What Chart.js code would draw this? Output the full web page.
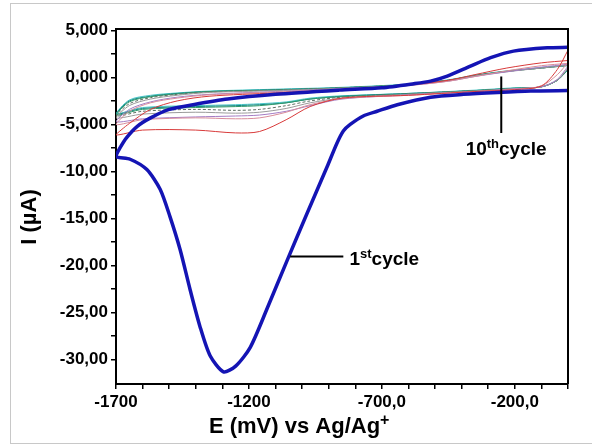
<!DOCTYPE html>
<html>
<head>
<meta charset="utf-8">
<script src="https://cdn.jsdelivr.net/npm/chart.js@4"></script>
<style>
  body { margin: 0; background: #fff; }
  #frame { position: absolute; left: 10px; top: 3px; width: 600px; height: 439px; border: 1px solid #c8c8c8; }
  #cv { position: absolute; left: 0; top: 0; }
</style>
</head>
<body>
<div id="frame"></div>
<canvas id="cv" width="592" height="446"></canvas>
<script>
// 1st cycle (thick blue): sweep from 0 mV down to -1700 and back
const cycle1E = [0, -141, -265, -393, -517, -642, -718, -770, -819, -845, -869, -906, -982, -1057, -1132, -1195, -1250, -1296,
  -1346, -1384, -1421, -1459, -1497, -1534, -1584, -1647, -1700,
  -1685, -1660, -1620, -1570, -1500, -1410, -1280, -1100, -860, -700, -580, -517, -454, -367, -291, -205, -78, 0];
const cycle1I = [-1.4, -1.45, -1.6, -1.8, -2.1, -2.9, -3.6, -4.1, -5.0, -5.7, -7.0, -9.5, -14.5, -19.5, -24.6, -28.7, -30.7, -31.3,
  -29.6, -26.5, -22.6, -18.3, -14.8, -11.9, -9.8, -8.7, -8.4,
  -7.5, -6.4, -5.2, -4.3, -3.4, -2.9, -2.3, -1.8, -1.35, -1.1, -0.67, -0.39, 0.14, 1.2, 2.1, 2.8, 3.15, 3.2];

// later cycles (thin lines), shared potential axis
const thinE = [0, -40, -100, -200, -350, -600, -850, -970, -1060, -1160, -1250, -1400, -1600, -1700,
  -1650, -1570, -1470, -1350, -1100, -850, -600, -450, -350, -230, -100, 0];
const cycle2I = [2.9, 0.85, -0.9, -1.3, -1.5, -1.9, -2.2, -3.1, -4.5, -5.75, -5.9, -5.6, -5.6, -6.1,
  -4.9, -3.4, -2.5, -2.0, -1.65, -1.3, -0.8, -0.3, 0.3, 1.0, 1.55, 1.8];
const cycle3I = [1.6, 0.3, -0.9, -1.25, -1.5, -1.9, -2.25, -2.9, -3.7, -4.3, -4.4, -4.3, -4.5, -5.0,
  -3.6, -2.7, -2.2, -1.85, -1.55, -1.25, -0.85, -0.4, 0.1, 0.7, 1.25, 1.5];
const cycle4I = [1.2, -0.2, -1.0, -1.2, -1.5, -1.85, -2.3, -3.0, -3.6, -4.0, -4.1, -4.2, -4.4, -4.7,
  -3.4, -2.6, -2.1, -1.8, -1.5, -1.2, -0.85, -0.4, 0.1, 0.6, 1.1, 1.4];
const cycle5I = [1.0, -0.3, -1.0, -1.2, -1.45, -1.8, -2.2, -2.7, -3.3, -3.7, -3.8, -3.7, -3.9, -4.3,
  -3.0, -2.3, -1.9, -1.6, -1.4, -1.15, -0.8, -0.35, 0.15, 0.6, 1.0, 1.3];
const cycle6I = [0.95, -0.3, -1.0, -1.2, -1.4, -1.75, -2.1, -2.5, -3.0, -3.4, -3.5, -3.4, -3.6, -4.1,
  -2.8, -2.15, -1.8, -1.55, -1.35, -1.1, -0.75, -0.3, 0.2, 0.65, 1.0, 1.3];
const cycle7I = [0.9, -0.3, -1.0, -1.15, -1.4, -1.75, -2.05, -2.3, -2.7, -3.0, -3.1, -3.2, -3.4, -4.0,
  -2.6, -2.05, -1.75, -1.5, -1.35, -1.1, -0.75, -0.3, 0.2, 0.65, 1.0, 1.3];
const cycle8I = [0.85, -0.3, -1.0, -1.15, -1.4, -1.7, -2.0, -2.3, -2.7, -2.9, -3.0, -3.1, -3.3, -3.9,
  -2.5, -2.0, -1.7, -1.5, -1.3, -1.1, -0.75, -0.3, 0.2, 0.65, 1.0, 1.25];
const cycle10I = [0.8, -0.3, -1.0, -1.1, -1.35, -1.7, -1.95, -2.2, -2.6, -2.8, -2.9, -3.0, -3.2, -3.85,
  -2.4, -1.9, -1.65, -1.45, -1.25, -1.05, -0.7, -0.25, 0.25, 0.7, 1.05, 1.3];
const thinColors = ['#d83a3a', '#d88c9a', '#a47cc4', '#9a9a9a', '#5f6f64', '#2f9a6a', '#108484', '#48c8c8'];

// axes
const xTicks = [-1700, -1600, -1500, -1400, -1300, -1200, -1100, -1000, -900, -800, -700, -600, -500, -400, -300, -200, -100, 0];
const xLabels = { '-1700': '-1700', '-1200': '-1200', '-700': '-700,0', '-200': '-200,0' };
const yTicks = [5, 2.5, 0, -2.5, -5, -7.5, -10, -12.5, -15, -17.5, -20, -22.5, -25, -27.5, -30];
const yLabels = { '5': '5,000', '0': '0,000', '-5': '-5,000', '-10': '-10,00', '-15': '-15,00', '-20': '-20,00', '-25': '-25,00', '-30': '-30,00' };

const FONT = "'Liberation Sans', Arial, sans-serif";

function pts(E, I) { return E.map((e, i) => ({ x: e, y: I[i] })); }

const thinSets = [cycle2I, cycle3I, cycle4I, cycle5I, cycle6I, cycle7I, cycle8I, cycle10I].map((arr, k) => ({
  data: pts(thinE, arr),
  borderColor: thinColors[k],
  borderWidth: 1,
  borderDash: k === 4 ? [3, 2] : [],
  showLine: true, pointRadius: 0, tension: 0.3
}));

const datasets = [{
  data: pts(cycle1E, cycle1I),
  borderColor: '#1414b4',
  borderWidth: 3.5,
  showLine: true, pointRadius: 0, tension: 0.25
}].concat(thinSets);

function supText(ctx, parts, x, y) {
  // parts: [text, size, raise]
  parts.forEach(p => {
    ctx.font = 'bold ' + p[1] + 'px ' + FONT;
    ctx.fillText(p[0], x, y - p[2]);
    x += ctx.measureText(p[0]).width;
  });
}

const decor = {
  id: 'decor',
  afterDraw(chart) {
    const { ctx, chartArea: a, scales: { x, y } } = chart;
    ctx.save();
    ctx.strokeStyle = '#000';
    ctx.lineWidth = 2;
    ctx.beginPath();
    ctx.moveTo(a.left, a.top); ctx.lineTo(a.right, a.top); ctx.lineTo(a.right, a.bottom);
    ctx.stroke();

    // annotations
    ctx.lineWidth = 2;
    ctx.beginPath();
    ctx.moveTo(x.getPixelForValue(-1045), y.getPixelForValue(-19.05));
    ctx.lineTo(x.getPixelForValue(-845), y.getPixelForValue(-19.05));
    ctx.moveTo(x.getPixelForValue(-251), y.getPixelForValue(0.1));
    ctx.lineTo(x.getPixelForValue(-251), y.getPixelForValue(-5.9));
    ctx.stroke();

    ctx.fillStyle = '#000';
    ctx.textAlign = 'left';
    ctx.textBaseline = 'alphabetic';
    supText(ctx, [['1', 19, 0], ['st', 13, 7], ['cycle', 19, 0]], x.getPixelForValue(-822), y.getPixelForValue(-19.05) + 8);
    supText(ctx, [['10', 19, 0], ['th', 13, 7], ['cycle', 19, 0]], x.getPixelForValue(-385), y.getPixelForValue(-8.3));

    // axis titles
    ctx.font = 'bold 22px ' + FONT;
    const t1 = 'E (mV) vs Ag/Ag';
    const w1 = ctx.measureText(t1).width;
    const cx = 299;
    supText(ctx, [[t1, 22, 0], ['+', 16, 8]], cx - (w1 + 9) / 2, 433);

    ctx.save();
    ctx.translate(36, 217);
    ctx.rotate(-Math.PI / 2);
    ctx.textAlign = 'center';
    ctx.font = 'bold 22px ' + FONT;
    ctx.fillText('I (\u00b5A)', 0, 0);
    ctx.restore();
    ctx.restore();
  }
};

new Chart(document.getElementById('cv'), {
  type: 'scatter',
  data: { datasets },
  plugins: [decor],
  options: {
    responsive: false,
    animation: false,
    layout: { padding: { left: 0, right: 24, top: 29, bottom: 0 } },
    plugins: { legend: { display: false }, tooltip: { enabled: false } },
    scales: {
      x: {
        type: 'linear', min: -1700, max: 0,
        afterFit: s => { s.height = 62; },
        afterBuildTicks: s => { s.ticks = xTicks.map(v => ({ value: v })); },
        ticks: {
          autoSkip: false, maxRotation: 0, padding: 3, color: '#000',
          font: { family: FONT, size: 17, weight: 'bold' },
          callback: v => xLabels[String(v)] || ''
        },
        grid: { drawOnChartArea: false, drawTicks: true, tickLength: 5, color: '#000', lineWidth: 1.5 },
        border: { color: '#000', width: 2 }
      },
      y: {
        type: 'linear', min: -32.6, max: 5.15,
        afterFit: s => { s.width = 116; },
        afterBuildTicks: s => { s.ticks = yTicks.map(v => ({ value: v })); },
        ticks: {
          autoSkip: false, padding: 3, color: '#000',
          font: { family: FONT, size: 17, weight: 'bold' },
          callback: v => yLabels[String(v)] || ''
        },
        grid: { drawOnChartArea: false, drawTicks: true, tickLength: 5, color: '#000', lineWidth: 1.5 },
        border: { color: '#000', width: 2 }
      }
    }
  }
});
</script>
</body>
</html>
